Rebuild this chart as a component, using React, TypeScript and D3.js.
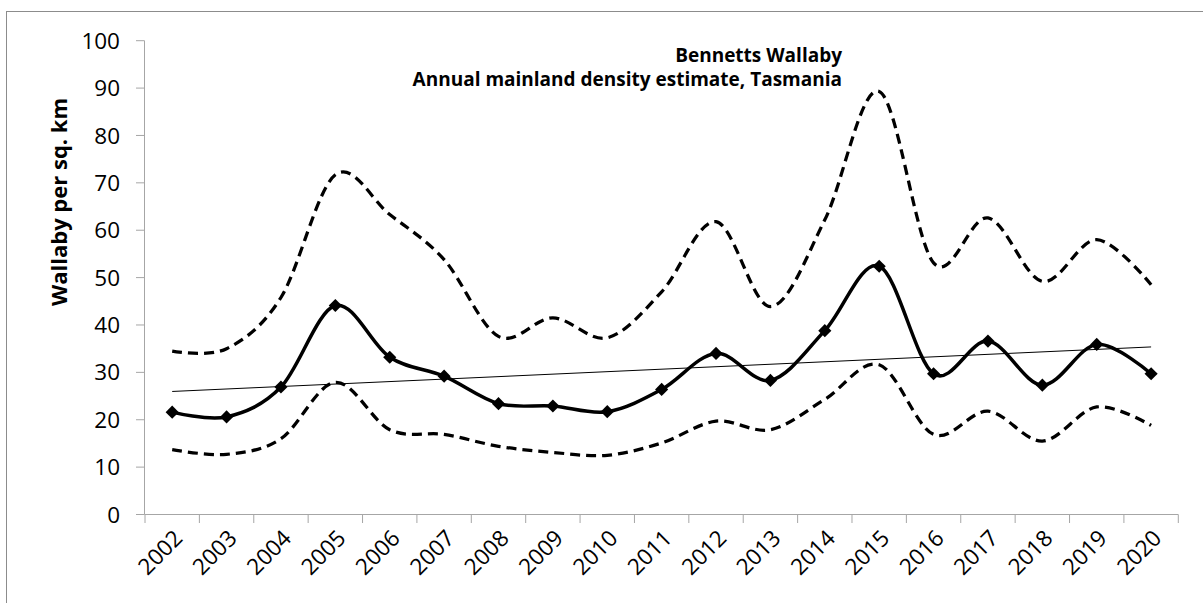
import React from "react";
import * as d3 from "d3";

const years = ["2002","2003","2004","2005","2006","2007","2008","2009","2010","2011","2012","2013","2014","2015","2016","2017","2018","2019","2020"];
const estimate = [21.6,20.6,26.9,44.1,33.2,29.2,23.4,22.9,21.7,26.4,34.0,28.3,38.8,52.4,29.7,36.6,27.3,35.9,29.7];
const upper = [34.5,35.0,45.8,71.7,63.3,53.8,37.6,41.5,37.3,47.0,61.8,43.9,62.2,89.3,53.1,62.6,49.2,58.0,48.5];
const lower = [13.7,12.7,16.0,27.9,17.9,16.9,14.4,13.1,12.5,15.1,19.7,17.9,24.3,31.6,16.9,21.8,15.5,22.7,18.8];
const yTicks = [0,10,20,30,40,50,60,70,80,90,100];
const titleLines = ["Bennetts Wallaby", "Annual mainland density estimate, Tasmania"];
const yLabel = "Wallaby per sq. km";

const W = 1203, H = 603;
const FONT = "'Open Sans', Lato, sans-serif";

export default function App() {
  const x = d3.scaleBand<string>().domain(years).range([145, 1178.3]);
  const y = d3.scaleLinear().domain([0, 100]).range([514.5, 40.7]);
  const cx = (i: number) => (x(years[i]) as number) + x.bandwidth() / 2;

  const line = d3.line<number>().x((_, i) => cx(i)).y(v => y(v)).curve(d3.curveCardinal.tension(0));

  // linear trend from estimate
  const n = estimate.length;
  const xs = d3.range(n);
  const mx = d3.mean(xs) as number, my = d3.mean(estimate) as number;
  const slope = d3.sum(xs.map(i => (i - mx) * (estimate[i] - my))) / d3.sum(xs.map(i => (i - mx) ** 2));
  const icpt = my - slope * mx;
  const trend = xs.map(i => icpt + slope * i);

  const axisColor = "#a6a6a6";
  const diamond = d3.symbol().type(d3.symbolDiamond2).size(110)();

  return (
    <svg width={W} height={H} style={{ position: "absolute", left: 0, top: 0, background: "#fff" }}>
      <rect x={6.5} y={11.5} width={1300} height={700} fill="#fff" stroke="#8c8c8c" strokeWidth={1} />
      {/* axes */}
      <line x1={144.5} x2={144.5} y1={y(100)} y2={y(0)} stroke={axisColor} strokeWidth={1} />
      {yTicks.map(t => (
        <g key={t}>
          <line x1={136} x2={144.5} y1={y(t)} y2={y(t)} stroke={axisColor} />
          <text x={120} y={y(t)} dy="0.36em" textAnchor="end" fontFamily={FONT} fontSize={22.5} fill="#000">{t}</text>
        </g>
      ))}
      <line x1={144.5} x2={1178.3} y1={y(0)} y2={y(0)} stroke={axisColor} />
      {[...years.map(yy => x(yy) as number), 1178.3].map((p, i) => (
        <line key={i} x1={p} x2={p} y1={y(0)} y2={y(0) + 8.5} stroke={axisColor} />
      ))}
      {years.map((yy, i) => (
        <text key={yy} transform={`translate(${cx(i) + 6},${534}) rotate(-45)`} textAnchor="end" dy="0.36em"
          fontFamily={FONT} fontSize={22.5} fill="#000">{yy}</text>
      ))}
      {/* y label */}
      <text transform={`translate(67,202) rotate(-90)`} textAnchor="middle" fontFamily={FONT} fontWeight="bold" fontSize={22} fill="#000">{yLabel}</text>
      {/* title */}
      <text x={842} y={61.5} textAnchor="end" fontFamily={FONT} fontWeight="bold" fontSize={19} fill="#000">{titleLines[0]}</text>
      <text x={842} y={86} textAnchor="end" fontFamily={FONT} fontWeight="bold" fontSize={19} fill="#000">{titleLines[1]}</text>
      {/* series */}
      <path d={line(upper) as string} fill="none" stroke="#000" strokeWidth={3.25} strokeDasharray="10,6" />
      <path d={line(lower) as string} fill="none" stroke="#000" strokeWidth={3.25} strokeDasharray="10,6" />
      <path d={line(estimate) as string} fill="none" stroke="#000" strokeWidth={3.5} />
      {estimate.map((v, i) => (
        <path key={i} d={diamond as string} transform={`translate(${cx(i)},${y(v)})`} fill="#000" />
      ))}
      <line x1={cx(0)} x2={cx(n - 1)} y1={y(trend[0])} y2={y(trend[n - 1])} stroke="#000" strokeWidth={1} />
    </svg>
  );
}
